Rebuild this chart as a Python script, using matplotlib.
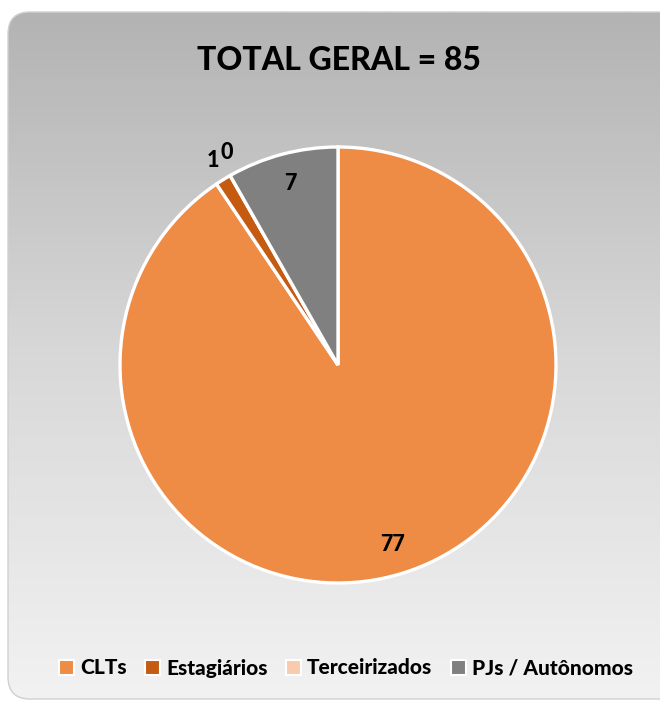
import numpy as np
import matplotlib
matplotlib.use("Agg")
import matplotlib.pyplot as plt
from matplotlib.patches import FancyBboxPatch, Patch
from matplotlib.colors import LinearSegmentedColormap

categories = ["CLTs", "Estagiários", "Terceirizados", "PJs / Autônomos"]
values = [77, 1, 0, 7]
colors = ["#EE8B45", "#C55A11", "#F8CBAD", "#808080"]
title = "TOTAL GERAL = 85"

plt.rcParams['font.family'] = ['Lato', 'DejaVu Sans']
WEIGHT = 900

W, H = 660, 702
fig = plt.figure(figsize=(W / 100, H / 100), dpi=100)
fig.patch.set_facecolor("white")

# background panel with vertical gradient
bg = fig.add_axes([0, 0, 1, 1])
bg.set_xlim(0, W)
bg.set_ylim(H, 0)
bg.axis("off")
cmap = LinearSegmentedColormap.from_list(
    "g", [(0.0, "#b3b3b3"), (0.5, "#d8d8d8"), (1.0, "#f2f2f2")])
grad = np.linspace(0, 1, 256).reshape(-1, 1)
panel = FancyBboxPatch((8, 12), 700, 687, boxstyle="round,pad=0,rounding_size=22",
                       facecolor="none", edgecolor="#d0d0d0", linewidth=1.0, zorder=2)
bg.add_patch(panel)
im = bg.imshow(grad, cmap=cmap, aspect="auto", extent=(8, 708, 699, 12), zorder=1)
im.set_clip_path(panel)

fig.text(339 / W, 1 - 60 / H, title, ha="center", va="center",
         fontsize=23, fontweight=WEIGHT, color="black")

# pie
cx, cy, r = 338, 365, 218
pad = 1.03
ax = fig.add_axes([(cx - r * pad) / W, 1 - (cy + r * pad) / H,
                   2 * r * pad / W, 2 * r * pad / H])
ax.set_facecolor("none")
wedges, _ = ax.pie(values, colors=colors, startangle=90, counterclock=False,
                   radius=1, wedgeprops=dict(edgecolor="white", linewidth=2.4))
ax.set_xlim(-pad, pad)
ax.set_ylim(-pad, pad)
ax.set_aspect("equal")
ax.axis("off")

dists = [0.86, 1.1, 1.1, 0.86]
offsets = [0, -0.4, -2.0, 0]
for w, v, d, off in zip(wedges, values, dists, offsets):
    ang = np.deg2rad((w.theta1 + w.theta2) / 2 + off)
    ax.text(d * np.cos(ang), d * np.sin(ang), str(v), ha="center", va="center",
            fontsize=15.5, fontweight=WEIGHT, color="black")

handles = [Patch(facecolor=c, edgecolor="white", linewidth=1.5) for c in colors]
fig.legend(handles, categories, loc="center", bbox_to_anchor=(346 / W, 1 - 668 / H),
           ncol=4, frameon=False, handlelength=0.7, handleheight=0.7,
           handletextpad=0.3, columnspacing=0.9,
           prop=dict(family=['Lato', 'DejaVu Sans'], weight=WEIGHT, size=15))

fig.savefig("out.png", dpi=100)
